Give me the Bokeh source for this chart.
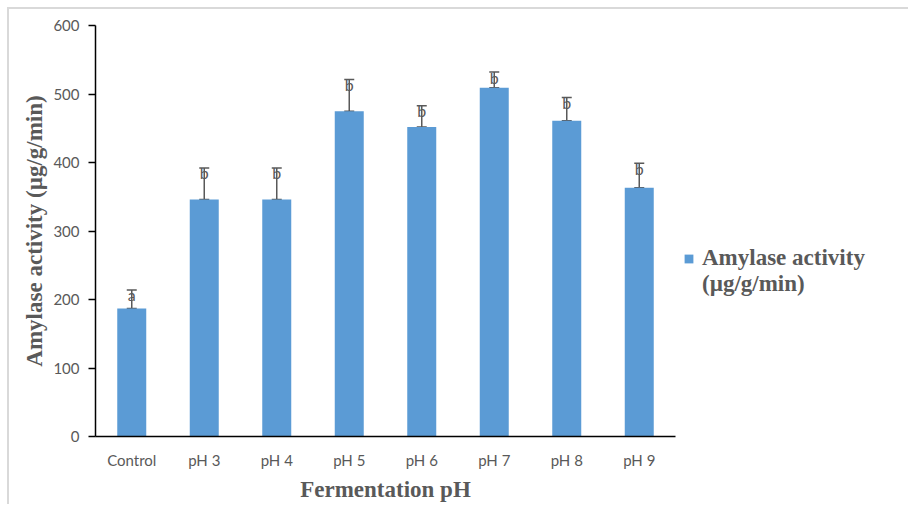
from bokeh.plotting import figure
from bokeh.models import ColumnDataSource, Whisker, TeeHead, Legend, LegendItem, FactorRange
from bokeh.embed import file_html
from bokeh.resources import INLINE

categories = ["Control", "pH 3", "pH 4", "pH 5", "pH 6", "pH 7", "pH 8", "pH 9"]
activity = [187, 346, 346, 475, 452, 509, 461, 363]
errors = [27, 46, 46, 46, 31, 23, 34, 36]
letters = ["a", "b", "b", "b", "b", "b", "b", "b"]
legend_lines = ["Amylase activity", "(µg/g/min)"]

upper = [v + e for v, e in zip(activity, errors)]
src = ColumnDataSource(dict(cat=categories, val=activity, upper=upper, lab=letters))

GRAY = "#595959"
BLUE = "#5B9BD5"

p = figure(frame_width=580, frame_height=411,
           x_range=FactorRange(*categories, range_padding=0),
           y_range=(0, 600), output_backend="svg", toolbar_location=None,
           min_border_left=86, min_border_top=16, min_border_bottom=60, min_border_right=210)
p.styles = {"border-top": "2px solid #d9d9d9", "border-left": "2px solid #d9d9d9",
            "margin-top": "7px", "margin-left": "7px"}
p.outline_line_color = None
p.grid.grid_line_color = None

bars = p.vbar(x="cat", top="val", width=0.4, source=src, fill_color=BLUE, line_color=None)
# invisible renderer used only for the legend's second text line
blank = p.vbar(x=[], top=[], width=0.4, fill_alpha=0, line_alpha=0)

w = Whisker(base="cat", upper="upper", lower="val", source=src,
            line_color=GRAY, line_width=1.5,
            upper_head=TeeHead(size=10, line_color=GRAY, line_width=1.5),
            lower_head=TeeHead(size=10, line_color=GRAY, line_width=1.5))
p.add_layout(w)

p.text(x="cat", y="upper", text="lab", source=src, text_align="center",
       text_baseline="middle", y_offset=5, text_font_size="16px",
       text_color=GRAY, text_font={"value": "Lato"})

# axes
p.yaxis.ticker = [0, 100, 200, 300, 400, 500, 600]
p.yaxis.axis_line_color = "black"
p.yaxis.axis_line_width = 1.5
p.yaxis.major_tick_line_color = "black"
p.yaxis.major_tick_line_width = 1.5
p.yaxis.major_tick_out = 7
p.yaxis.major_tick_in = 0
p.yaxis.minor_tick_line_color = None
p.yaxis.major_label_standoff = 9
p.yaxis.axis_label = "Amylase activity (µg/g/min)"
p.yaxis.axis_label_standoff = 3

p.xaxis.axis_line_color = "black"
p.xaxis.axis_line_width = 1.5
p.xaxis.major_tick_line_color = None
p.xaxis.major_tick_out = 0
p.xaxis.major_label_standoff = 14
p.xaxis.axis_label = "Fermentation pH"
p.xaxis.axis_label_standoff = 5

for ax in (p.xaxis[0], p.yaxis[0]):
    ax.major_label_text_font = "Lato"
    ax.major_label_text_font_size = "15px"
    ax.major_label_text_color = GRAY
    ax.axis_label_text_font = "Liberation Serif"
    ax.axis_label_text_font_style = "bold"
    ax.axis_label_text_font_size = "23px"
    ax.axis_label_text_color = GRAY

legend = Legend(items=[LegendItem(label=legend_lines[0], renderers=[bars]),
                       LegendItem(label=legend_lines[1], renderers=[blank])],
                location=(8, 139), padding=0, margin=0, spacing=0,
                border_line_color=None, background_fill_alpha=0,
                glyph_width=11, glyph_height=11,
                label_standoff=8, label_text_font="Liberation Serif",
                label_text_font_style="bold", label_text_font_size="23px",
                label_text_color=GRAY, label_text_line_height=1.15)
p.add_layout(legend, "right")

open("out.html", "w").write(file_html(p, INLINE))
